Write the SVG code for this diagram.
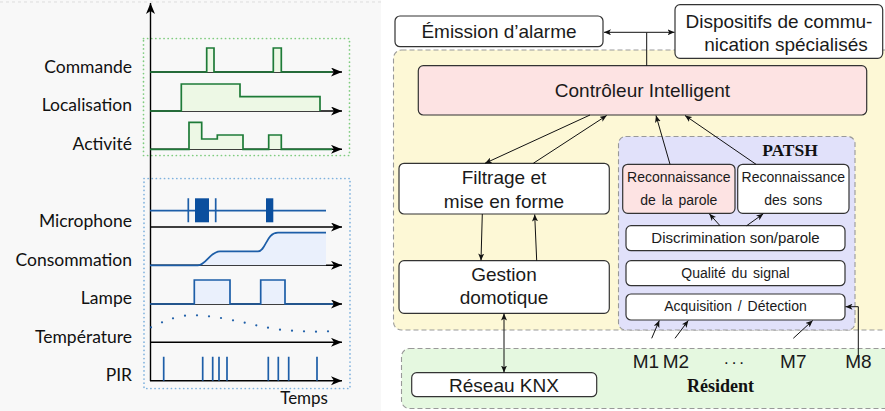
<svg xmlns="http://www.w3.org/2000/svg" width="885" height="411" viewBox="0 0 885 411">
<defs>
<marker id="ax" markerUnits="userSpaceOnUse" markerWidth="12" markerHeight="10" refX="11" refY="4.5" orient="auto-start-reverse"><path d="M0,0 L11,4.5 L0,9 L3,4.5 z" fill="#000"/></marker>
<marker id="ar" markerUnits="userSpaceOnUse" markerWidth="8" markerHeight="6" refX="7" refY="3" orient="auto-start-reverse"><path d="M0,0 L7,3 L0,6 L1.8,3 z" fill="#111"/></marker>
<style>
.lbl{font-family:Lato,"Open Sans",sans-serif;font-size:17.5px;fill:#111;text-anchor:end}
.axis{stroke:#000;stroke-width:1.4;fill:none;marker-end:url(#ax)}
.gs{stroke:#1e7b38;stroke-width:1.7;fill:none}
.gf{fill:#edf8e5;stroke:none}
.bs{stroke:#1d5ea8;stroke-width:1.7;fill:none}
.bf{fill:#eaf0fc;stroke:none}
.box{stroke:#333;stroke-width:1.2;fill:#fff}
.pink{fill:#fde3e3}
.t{font-family:"Liberation Sans",Arial,sans-serif;fill:#1a1a1a;text-anchor:middle}
.big{font-size:19px}
.sm{font-size:14px;word-spacing:2px}
.reg{stroke:#999;stroke-width:1.1;stroke-dasharray:5 3}
.c{stroke:#111;stroke-width:1;fill:none;marker-end:url(#ar)}
.bold{font-family:"Liberation Serif","Times New Roman",serif;font-weight:bold;fill:#111;text-anchor:middle}
</style>
</defs>

<!-- left panel -->
<g id="timeline">
<rect x="0" y="0" width="381" height="411" fill="#f8f8f8"/>
<line x1="0" y1="2" x2="381" y2="2" stroke="#ddd" stroke-dasharray="3 3"/>
<rect x="143.5" y="38.5" width="206" height="117" fill="none" stroke="#7fcc7f" stroke-width="1.7" stroke-dasharray="0.1 4" stroke-linecap="round"/>
<rect x="144" y="178.5" width="206" height="210" fill="none" stroke="#7fb2de" stroke-width="1.7" stroke-dasharray="0.1 4" stroke-linecap="round"/>
<line x1="150.5" y1="381" x2="150.5" y2="3" class="axis"/>

<text class="lbl" x="132" y="72.5">Commande</text>
<text class="lbl" x="132" y="111">Localisation</text>
<text class="lbl" x="132" y="149.5">Activité</text>
<text class="lbl" x="132" y="227">Microphone</text>
<text class="lbl" x="132" y="265.5">Consommation</text>
<text class="lbl" x="132" y="304">Lampe</text>
<text class="lbl" x="132" y="342.5">Température</text>
<text class="lbl" x="132" y="381">PIR</text>
<text class="lbl" x="328" y="404" style="font-size:17px">Temps</text>

<!-- Commande -->
<line x1="150" y1="72" x2="342" y2="72" class="axis"/>
<path class="gf" d="M206.7,72V48H214V72Z M273.3,72V48H281.3V72Z"/>
<path class="gs" d="M150,72H206.7V48H214V72H273.3V48H281.3V72H332"/>
<!-- Localisation -->
<line x1="150" y1="111" x2="342" y2="111" class="axis"/>
<path class="gf" d="M181.3,111V84H240V96.7H320V111Z"/>
<path class="gs" d="M150,111H181.3V84H240V96.7H320V111"/>
<!-- Activité -->
<line x1="150" y1="149.3" x2="342" y2="149.3" class="axis"/>
<path class="gf" d="M189,149.3V122.3H201.7V139H217.3V135H243V149.3Z M268.7,149.3V135H281.3V149.3Z"/>
<path class="gs" d="M150,149.3H189V122.3H201.7V139H217.3V135H243V149.3H268.7V135H281.3V149.3H332"/>

<!-- Microphone -->
<line x1="150" y1="227" x2="342" y2="227" class="axis"/>
<path class="bs" d="M150,210.7H326"/>
<path class="bs" d="M188.3,198.3V222.3 M215.7,198.3V222.3"/>
<rect x="195" y="198.3" width="14" height="24" fill="#0b4f9e"/>
<rect x="266" y="198.3" width="7.3" height="24" fill="#0b4f9e"/>
<!-- Consommation -->
<line x1="150" y1="265.3" x2="342" y2="265.3" class="axis"/>
<path class="bf" d="M198,265.3C206,265.3 210,251.3 220,251.3H258C266,251.3 266,232.7 278,232.7H326V265.3Z"/>
<path class="bs" d="M150,265.3H198C206,265.3 210,251.3 220,251.3H258C266,251.3 266,232.7 278,232.7H326"/>
<!-- Lampe -->
<line x1="150" y1="304" x2="342" y2="304" class="axis"/>
<path class="bf" d="M194.3,304V280H230V304Z M260.7,304V280H285V304Z"/>
<path class="bs" d="M150,304H194.3V280H230V304H260.7V280H285V304H333"/>
<!-- Température -->
<line x1="150" y1="342.3" x2="342" y2="342.3" class="axis"/>
<g fill="#1d5ea8">
<circle cx="151" cy="327.3" r="1.1"/><circle cx="162" cy="322.3" r="1.1"/><circle cx="173" cy="318.3" r="1.1"/><circle cx="185" cy="315.7" r="1.1"/><circle cx="197" cy="315.3" r="1.1"/><circle cx="209" cy="316.3" r="1.1"/><circle cx="221" cy="318" r="1.1"/><circle cx="233" cy="320.3" r="1.1"/><circle cx="244.7" cy="322.7" r="1.1"/><circle cx="256.3" cy="325.3" r="1.1"/><circle cx="268" cy="327.7" r="1.1"/><circle cx="280" cy="329.7" r="1.1"/><circle cx="292" cy="330.7" r="1.1"/><circle cx="304" cy="331.3" r="1.1"/><circle cx="316" cy="331.7" r="1.1"/><circle cx="328" cy="331.3" r="1.1"/>
</g>
<!-- PIR -->
<line x1="150" y1="380.7" x2="342" y2="380.7" class="axis"/>
<path class="bs" d="M163.7,356.7V380.7 M202.7,356.7V380.7 M212.7,356.7V380.7 M219,356.7V380.7 M227,356.7V380.7 M268.3,356.7V380.7 M278.3,356.7V380.7 M288.7,356.7V380.7 M317,356.7V380.7"/>
</g>

<!-- right panel regions -->
<g id="region-system"><rect class="reg" x="393.5" y="50" width="500" height="280" rx="8" fill="#fdf8d6"/></g>
<g id="region-resident"><rect class="reg" x="401.5" y="348.5" width="500" height="60" rx="8" fill="#e5f8e0"/>
<text class="bold" x="720.5" y="391.5" font-size="18">Résident</text></g>
<g id="region-patsh"><rect class="reg" x="618.5" y="136.5" width="236.5" height="193.5" rx="7" fill="#e1e1fa"/>
<text class="bold" x="790" y="156" font-size="17.5">PATSH</text></g>

<g id="emission"><rect class="box" x="395" y="16" width="208" height="30.7" rx="5"/>
<text class="t big" x="499" y="38">Émission d’alarme</text></g>
<g id="dispositifs"><rect class="box" x="675" y="4.7" width="207.7" height="53.6" rx="5"/>
<text class="t big" x="779" y="28">Dispositifs de commu-</text>
<text class="t big" x="786" y="51">nication spécialisés</text></g>
<g id="controleur"><rect class="box pink" x="418.3" y="65.7" width="448.4" height="49.3" rx="5"/>
<text class="t big" x="642.5" y="97">Contrôleur Intelligent</text></g>
<g id="filtrage"><rect class="box" x="399" y="163.3" width="210.3" height="50.7" rx="5"/>
<text class="t big" x="504" y="184">Filtrage et</text>
<text class="t big" x="504" y="208">mise en forme</text></g>
<g id="gestion"><rect class="box" x="399" y="260.7" width="210.3" height="52.6" rx="5"/>
<text class="t big" x="504" y="281">Gestion</text>
<text class="t big" x="504" y="304">domotique</text></g>
<g id="knx"><rect class="box" x="411.7" y="372.7" width="185" height="24" rx="5"/>
<text class="t big" x="504" y="391.5">Réseau KNX</text></g>
<g id="rec-parole"><rect class="box pink" x="622.7" y="164.3" width="112.3" height="49" rx="5"/>
<text class="t sm" x="678.8" y="181.5">Reconnaissance</text>
<text class="t sm" x="678.8" y="204.5">de la parole</text></g>
<g id="rec-sons"><rect class="box" x="737.7" y="164.3" width="111.3" height="49" rx="5"/>
<text class="t sm" x="793.3" y="181.5">Reconnaissance</text>
<text class="t sm" x="793.3" y="204.5">des sons</text></g>
<g id="discrimination"><rect class="box" x="626" y="225.7" width="219" height="25" rx="5"/>
<text class="t" x="735.5" y="243" font-size="15">Discrimination son/parole</text></g>
<g id="qualite"><rect class="box" x="626" y="260.7" width="219" height="25" rx="5"/>
<text class="t sm" x="735.5" y="277.5">Qualité du signal</text></g>
<g id="acquisition"><rect class="box" x="626" y="294" width="219" height="26" rx="5"/>
<text class="t sm" x="735.5" y="311">Acquisition / Détection</text></g>

<g id="mics">
<text class="t" x="646" y="368" font-size="19">M1</text>
<text class="t" x="676" y="368" font-size="19">M2</text>
<text class="t" x="735" y="368" font-size="17" letter-spacing="2">···</text>
<text class="t" x="793.3" y="368" font-size="19">M7</text>
<text class="t" x="858.5" y="368" font-size="19">M8</text>
</g>

<g id="connectors">
<path class="c" d="M646.7,65.7V32.3H604"/>
<path class="c" d="M646.7,32.3H674.5"/>
<path class="c" d="M590,115L485,163.3"/>
<path class="c" d="M533.3,163.3L606.7,115.5"/>
<path class="c" d="M670,164.3L656,115.5"/>
<path class="c" d="M756,164.3L685,115.5"/>
<path class="c" d="M482.3,214L481,260.5"/>
<path class="c" d="M536.7,260.7L534.7,214.5"/>
<path class="c" d="M504,313.5V372.5" style="marker-start:url(#ar)"/>
<path class="c" d="M720,225.7L709.3,213.8"/>
<path class="c" d="M746.7,225.7L763.3,213.8"/>
<path class="c" d="M651.7,338.3L659.3,320.5"/>
<path class="c" d="M675,338.3L688.3,320.5"/>
<path class="c" d="M793.3,338.3L812.7,320.5"/>
<path class="c" d="M858.3,356.7V306.7H845.5"/>
</g>
</svg>
